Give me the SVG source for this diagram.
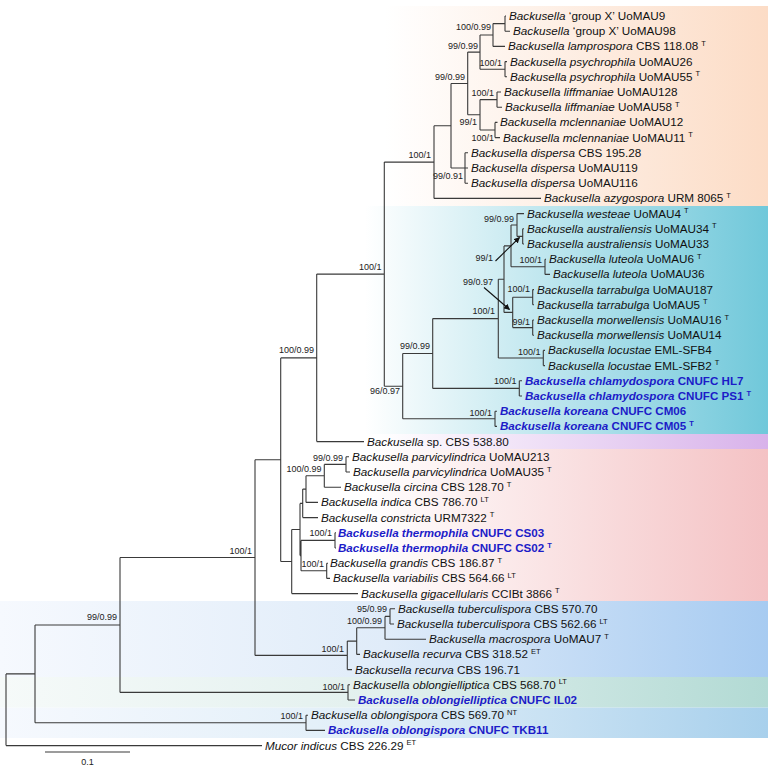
<svg xmlns="http://www.w3.org/2000/svg" width="768" height="767" viewBox="0 0 768 767">
<defs>
<linearGradient id="gOr" x1="0" y1="0" x2="1" y2="0"><stop offset="0" stop-color="#ffffff"/><stop offset="1" stop-color="#fcdcc6"/></linearGradient>
<linearGradient id="gCy" x1="0" y1="0" x2="1" y2="0"><stop offset="0" stop-color="#ffffff"/><stop offset="1" stop-color="#70c8da"/></linearGradient>
<linearGradient id="gPu" x1="0" y1="0" x2="1" y2="0"><stop offset="0" stop-color="#ffffff"/><stop offset="1" stop-color="#d8b2ea"/></linearGradient>
<linearGradient id="gPk" x1="0" y1="0" x2="1" y2="0"><stop offset="0" stop-color="#ffffff"/><stop offset="1" stop-color="#f4c2c4"/></linearGradient>
<linearGradient id="gBl" x1="0" y1="0" x2="1" y2="0"><stop offset="0" stop-color="#f6f9fe"/><stop offset="0.5" stop-color="#e0ecf9"/><stop offset="1" stop-color="#a7cbf1"/></linearGradient>
<linearGradient id="gGr" x1="0" y1="0" x2="1" y2="0"><stop offset="0" stop-color="#f6faf9"/><stop offset="0.5" stop-color="#e2f0ee"/><stop offset="1" stop-color="#b2dad4"/></linearGradient>
<linearGradient id="gBl2" x1="0" y1="0" x2="1" y2="0"><stop offset="0" stop-color="#f6f9fe"/><stop offset="0.5" stop-color="#e0eef8"/><stop offset="1" stop-color="#a8d0ec"/></linearGradient>
<marker id="ah" viewBox="0 0 10 10" refX="9" refY="5" markerWidth="6" markerHeight="6" orient="auto" markerUnits="userSpaceOnUse"><path d="M0,0L10,5L0,10z" fill="#111"/></marker>
</defs>
<style>
.t{font-family:"Liberation Sans",Arial,sans-serif;font-size:11.7px;fill:#111}
.i{font-style:italic}
.b{font-weight:bold;fill:#1c1cc8;font-size:11.6px}
.s{font-size:7.5px}
.lab{font-family:"Liberation Sans",Arial,sans-serif;font-size:9px;fill:#222;text-anchor:end}
.br{fill:none;stroke:#3a3a3a;stroke-width:1.1}
.ar{fill:none;stroke:#111;stroke-width:1.1;marker-end:url(#ah)}
</style>
<rect width="768" height="767" fill="#ffffff"/>
<g id="bands">
<rect x="385" y="6" width="383" height="200" fill="url(#gOr)"/>
<rect x="365" y="206" width="403" height="228" fill="url(#gCy)"/>
<rect x="380" y="434" width="388" height="15" fill="url(#gPu)"/>
<rect x="365" y="449" width="403" height="152" fill="url(#gPk)"/>
<rect x="0" y="601" width="768" height="76" fill="url(#gBl)"/>
<rect x="0" y="677" width="768" height="30.6" fill="url(#gGr)"/>
<rect x="0" y="707.6" width="768" height="30.4" fill="url(#gBl2)"/>
</g>
<g id="connectors">
<path class="br" d="M505,16V31.2M505,16H506M505,31.2H510
M493,23.6V46.4M493,23.6H505M493,46.4H505
M505,61.6V76.8M505,61.6H507M505,76.8H507
M480,35V69.2M480,35H493M480,69.2H505
M497,92V107.2M497,92H501M497,107.2H502
M495,122.4V137.6M495,122.4H497.5M495,137.6H500
M480,99.6V130M480,99.6H497M480,130H495
M467.7,52.1V114.8M467.7,52.1H480M467.7,114.8H480
M465,152.8V183.2M465,152.8H468M465,168H468M465,183.2H468
M451,83.5V168M451,83.5H467.7M451,168H465
M434,125.7V198.4M434,125.7H451M434,198.4H541
M522.7,228.8V244M522.7,228.8H524M522.7,244H524
M517,213.6V236.4M517,213.6H524M517,236.4H522.7
M545,259.2V274.4M545,259.2H546M545,274.4H550
M511,225V266.8M511,225H517M511,266.8H545
M532.7,289.6V304.8M532.7,289.6H534M532.7,304.8H534
M532.7,320V335.2M532.7,320H534M532.7,335.2H534
M512.7,297.2V327.6M512.7,297.2H532.7M512.7,327.6H532.7
M504,245.9V312.4M504,245.9H511M504,312.4H512.7
M543.3,350.4V365.6M543.3,350.4H545M543.3,365.6H545
M498.3,279.2V358M498.3,279.2H504M498.3,358H543.3
M519.3,380.8V396M519.3,380.8H522M519.3,396H522
M432.7,318.6V388.4M432.7,318.6H498.3M432.7,388.4H519.3
M495,411.2V426.4M495,411.2H497M495,426.4H497
M402.7,353.5V418.8M402.7,353.5H432.7M402.7,418.8H495
M384.3,162.1V386.2M384.3,162.1H434M384.3,386.2H402.7
M316.7,274.1V441.6M316.7,274.1H384.3M316.7,441.6H364
M346,456.8V472M346,456.8H349M346,472H350
M324.3,464.4V487.2M324.3,464.4H346M324.3,487.2H341
M306,475.8V502.4M306,475.8H324.3M306,502.4H318
M302.7,489.1V517.6M302.7,489.1H306M302.7,517.6H318
M335,532.8V548M335,532.8H336M335,548H336
M326.7,563.2V578.4M326.7,563.2H328M326.7,578.4H330
M301,540.4V570.8M301,540.4H335M301,570.8H326.7
M300,503.4V555.6M300,503.4H302.7M300,555.6H301
M291.7,529.5V593.6M291.7,529.5H300M291.7,593.6H358
M280.7,357.9V561.5M280.7,357.9H316.7M280.7,561.5H291.7
M390,608.8V624M390,608.8H395M390,624H394
M385,616.4V639.2M385,616.4H390M385,639.2H426
M356.7,627.8V654.4M356.7,627.8H385M356.7,654.4H360
M347.3,641.1V669.6M347.3,641.1H356.7M347.3,669.6H352
M255,459.7V655.4M255,459.7H280.7M255,655.4H347.3
M348,684.8V700M348,684.8H350M348,700H355
M120,557.5V692.4M120,557.5H255M120,692.4H348
M306,715.2V730.4M306,715.2H308M306,730.4H325
M35,625V722.8M35,625H120M35,722.8H306
M6,673.9V745.6M6,673.9H35M6,745.6H262"/>
<line class="ar" x1="495.5" y1="261" x2="519.5" y2="237.5"/>
<line class="ar" x1="484" y1="287.5" x2="509.5" y2="309.5"/>
</g>
<g id="support">
<text class="lab" x="491" y="30">100/0.99</text>
<text class="lab" x="478" y="49">99/0.99</text>
<text class="lab" x="502" y="65.5">100/1</text>
<text class="lab" x="465" y="80">99/0.99</text>
<text class="lab" x="494" y="96">100/1</text>
<text class="lab" x="477" y="125">99/1</text>
<text class="lab" x="494" y="141">100/1</text>
<text class="lab" x="431" y="158">100/1</text>
<text class="lab" x="463" y="179">99/0.91</text>
<text class="lab" x="514" y="221.5">99/0.99</text>
<text class="lab" x="493" y="260.5">99/1</text>
<text class="lab" x="542" y="263">100/1</text>
<text class="lab" x="381.5" y="270">100/1</text>
<text class="lab" x="493" y="285">99/0.97</text>
<text class="lab" x="530" y="292">100/1</text>
<text class="lab" x="495" y="314">100/1</text>
<text class="lab" x="530" y="324.5">99/1</text>
<text class="lab" x="430" y="348.5">99/0.99</text>
<text class="lab" x="540.5" y="354.5">100/1</text>
<text class="lab" x="314" y="353">100/0.99</text>
<text class="lab" x="516.5" y="384">100/1</text>
<text class="lab" x="400" y="394">96/0.97</text>
<text class="lab" x="492" y="416">100/1</text>
<text class="lab" x="343" y="460.5">99/0.99</text>
<text class="lab" x="321.5" y="472">100/0.99</text>
<text class="lab" x="332" y="536">100/1</text>
<text class="lab" x="252" y="554">100/1</text>
<text class="lab" x="324" y="567">100/1</text>
<text class="lab" x="387" y="611.5">95/0.99</text>
<text class="lab" x="382" y="624">100/0.99</text>
<text class="lab" x="117" y="620">99/0.99</text>
<text class="lab" x="344" y="652">100/1</text>
<text class="lab" x="345" y="689.5">100/1</text>
<text class="lab" x="303" y="719">100/1</text>
</g>
<g id="t01"><text class="t" x="509" y="20"><tspan class="i">Backusella</tspan> ‘group X’ UoMAU9</text></g>
<g id="t02"><text class="t" x="513" y="35.2"><tspan class="i">Backusella</tspan> ‘group X’ UoMAU98</text></g>
<g id="t03"><text class="t" x="508" y="50.4"><tspan class="i">Backusella lamprospora</tspan> CBS 118.08<tspan class="s" dx="3" dy="-4.5">T</tspan></text></g>
<g id="t04"><text class="t" x="510" y="65.6"><tspan class="i">Backusella psychrophila</tspan> UoMAU26</text></g>
<g id="t05"><text class="t" x="510" y="80.8"><tspan class="i">Backusella psychrophila</tspan> UoMAU55<tspan class="s" dx="3" dy="-4.5">T</tspan></text></g>
<g id="t06"><text class="t" x="504" y="96"><tspan class="i">Backusella liffmaniae</tspan> UoMAU128</text></g>
<g id="t07"><text class="t" x="505" y="111.2"><tspan class="i">Backusella liffmaniae</tspan> UoMAU58<tspan class="s" dx="3" dy="-4.5">T</tspan></text></g>
<g id="t08"><text class="t" x="500" y="126.4"><tspan class="i">Backusella mclennaniae</tspan> UoMAU12</text></g>
<g id="t09"><text class="t" x="503" y="141.6"><tspan class="i">Backusella mclennaniae</tspan> UoMAU11<tspan class="s" dx="3" dy="-4.5">T</tspan></text></g>
<g id="t10"><text class="t" x="471" y="156.8"><tspan class="i">Backusella dispersa</tspan> CBS 195.28</text></g>
<g id="t11"><text class="t" x="471" y="172"><tspan class="i">Backusella dispersa</tspan> UoMAU119</text></g>
<g id="t12"><text class="t" x="471" y="187.2"><tspan class="i">Backusella dispersa</tspan> UoMAU116</text></g>
<g id="t13"><text class="t" x="544" y="202.4"><tspan class="i">Backusella azygospora</tspan> URM 8065<tspan class="s" dx="3" dy="-4.5">T</tspan></text></g>
<g id="t14"><text class="t" x="527" y="217.6"><tspan class="i">Backusella westeae</tspan> UoMAU4<tspan class="s" dx="3" dy="-4.5">T</tspan></text></g>
<g id="t15"><text class="t" x="527" y="232.8"><tspan class="i">Backusella australiensis</tspan> UoMAU34<tspan class="s" dx="3" dy="-4.5">T</tspan></text></g>
<g id="t16"><text class="t" x="527" y="248"><tspan class="i">Backusella australiensis</tspan> UoMAU33</text></g>
<g id="t17"><text class="t" x="549" y="263.2"><tspan class="i">Backusella luteola</tspan> UoMAU6<tspan class="s" dx="3" dy="-4.5">T</tspan></text></g>
<g id="t18"><text class="t" x="553" y="278.4"><tspan class="i">Backusella luteola</tspan> UoMAU36</text></g>
<g id="t19"><text class="t" x="537" y="293.6"><tspan class="i">Backusella tarrabulga</tspan> UoMAU187</text></g>
<g id="t20"><text class="t" x="537" y="308.8"><tspan class="i">Backusella tarrabulga</tspan> UoMAU5<tspan class="s" dx="3" dy="-4.5">T</tspan></text></g>
<g id="t21"><text class="t" x="537" y="324"><tspan class="i">Backusella morwellensis</tspan> UoMAU16<tspan class="s" dx="3" dy="-4.5">T</tspan></text></g>
<g id="t22"><text class="t" x="537" y="339.2"><tspan class="i">Backusella morwellensis</tspan> UoMAU14</text></g>
<g id="t23"><text class="t" x="548" y="354.4"><tspan class="i">Backusella locustae</tspan> EML-SFB4</text></g>
<g id="t24"><text class="t" x="548" y="369.6"><tspan class="i">Backusella locustae</tspan> EML-SFB2<tspan class="s" dx="3" dy="-4.5">T</tspan></text></g>
<g id="t25"><text class="t b" x="525" y="384.8"><tspan class="i">Backusella chlamydospora</tspan> CNUFC HL7</text></g>
<g id="t26"><text class="t b" x="525" y="400"><tspan class="i">Backusella chlamydospora</tspan> CNUFC PS1<tspan class="s" dx="3" dy="-4.5">T</tspan></text></g>
<g id="t27"><text class="t b" x="500" y="415.2"><tspan class="i">Backusella koreana</tspan> CNUFC CM06</text></g>
<g id="t28"><text class="t b" x="500" y="430.4"><tspan class="i">Backusella koreana</tspan> CNUFC CM05<tspan class="s" dx="3" dy="-4.5">T</tspan></text></g>
<g id="t29"><text class="t" x="367" y="445.6"><tspan class="i">Backusella</tspan> sp. CBS 538.80</text></g>
<g id="t30"><text class="t" x="352" y="460.8"><tspan class="i">Backusella parvicylindrica</tspan> UoMAU213</text></g>
<g id="t31"><text class="t" x="353" y="476"><tspan class="i">Backusella parvicylindrica</tspan> UoMAU35<tspan class="s" dx="3" dy="-4.5">T</tspan></text></g>
<g id="t32"><text class="t" x="344" y="491.2"><tspan class="i">Backusella circina</tspan> CBS 128.70<tspan class="s" dx="3" dy="-4.5">T</tspan></text></g>
<g id="t33"><text class="t" x="321" y="506.4"><tspan class="i">Backusella indica</tspan> CBS 786.70<tspan class="s" dx="3" dy="-4.5">LT</tspan></text></g>
<g id="t34"><text class="t" x="321" y="521.6"><tspan class="i">Backusella constricta</tspan> URM7322<tspan class="s" dx="3" dy="-4.5">T</tspan></text></g>
<g id="t35"><text class="t b" x="338" y="536.8"><tspan class="i">Backusella thermophila</tspan> CNUFC CS03</text></g>
<g id="t36"><text class="t b" x="338" y="552"><tspan class="i">Backusella thermophila</tspan> CNUFC CS02<tspan class="s" dx="3" dy="-4.5">T</tspan></text></g>
<g id="t37"><text class="t" x="330" y="567.2"><tspan class="i">Backusella grandis</tspan> CBS 186.87<tspan class="s" dx="3" dy="-4.5">T</tspan></text></g>
<g id="t38"><text class="t" x="333" y="582.4"><tspan class="i">Backusella variabilis</tspan> CBS 564.66<tspan class="s" dx="3" dy="-4.5">LT</tspan></text></g>
<g id="t39"><text class="t" x="361" y="597.6"><tspan class="i">Backusella gigacellularis</tspan> CCIBt 3866<tspan class="s" dx="3" dy="-4.5">T</tspan></text></g>
<g id="t40"><text class="t" x="398" y="612.8"><tspan class="i">Backusella tuberculispora</tspan> CBS 570.70</text></g>
<g id="t41"><text class="t" x="397" y="628"><tspan class="i">Backusella tuberculispora</tspan> CBS 562.66<tspan class="s" dx="3" dy="-4.5">LT</tspan></text></g>
<g id="t42"><text class="t" x="429" y="643.2"><tspan class="i">Backusella macrospora</tspan> UoMAU7<tspan class="s" dx="3" dy="-4.5">T</tspan></text></g>
<g id="t43"><text class="t" x="363" y="658.4"><tspan class="i">Backusella recurva</tspan> CBS 318.52<tspan class="s" dx="3" dy="-4.5">ET</tspan></text></g>
<g id="t44"><text class="t" x="355" y="673.6"><tspan class="i">Backusella recurva</tspan> CBS 196.71</text></g>
<g id="t45"><text class="t" x="353" y="688.8"><tspan class="i">Backusella oblongielliptica</tspan> CBS 568.70<tspan class="s" dx="3" dy="-4.5">LT</tspan></text></g>
<g id="t46"><text class="t b" x="358" y="704"><tspan class="i">Backusella oblongielliptica</tspan> CNUFC IL02</text></g>
<g id="t47"><text class="t" x="311" y="719.2"><tspan class="i">Backusella oblongispora</tspan> CBS 569.70<tspan class="s" dx="3" dy="-4.5">NT</tspan></text></g>
<g id="t48"><text class="t b" x="328" y="734.4"><tspan class="i">Backusella oblongispora</tspan> CNUFC TKB11</text></g>
<g id="t49"><text class="t" x="265" y="749.6"><tspan class="i">Mucor indicus</tspan> CBS 226.29<tspan class="s" dx="3" dy="-4.5">ET</tspan></text></g>
<g id="scalebar">
<line x1="45" y1="752" x2="130" y2="752" stroke="#3a3a3a" stroke-width="1.1"/>
<text class="lab" x="87.5" y="765" style="text-anchor:middle">0.1</text>
</g>
</svg>
